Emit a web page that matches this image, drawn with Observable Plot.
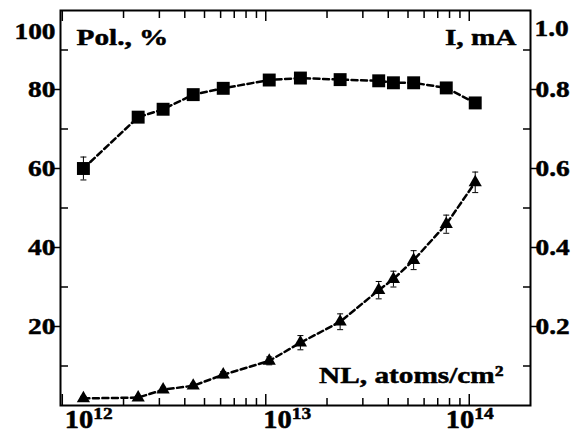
<!DOCTYPE html>
<html><head><meta charset="utf-8">
<script src="https://cdn.jsdelivr.net/npm/d3@7"></script>
<script src="https://cdn.jsdelivr.net/npm/@observablehq/plot@0.6"></script>
<style>body{margin:0;background:#fff;} svg text{font-family:"Liberation Serif","Times New Roman",serif !important;}</style>
</head><body><div id="chart"></div>
<script>
// ---- data ----
const nl = [1.27e12, 2.36e12, 3.13e12, 4.40e12, 6.18e12, 1.04e13, 1.48e13, 2.32e13, 3.59e13, 4.24e13, 5.33e13, 7.71e13, 1.07e14];
const pol = [60.0, 73.0, 75.0, 78.7, 80.3, 82.4, 82.9, 82.5, 82.2, 81.7, 81.7, 80.4, 76.6];
const polErr = [2.9, 1.1, 0.6, 0.6, 0.6, 0.6, 0.6, 0.6, 0.6, 0.6, 0.6, 0.6, 0.6];
const current = [0.018, 0.020, 0.040, 0.050, 0.078, 0.113, 0.159, 0.212, 0.292, 0.320, 0.368, 0.459, 0.565];
const currentErr = [0.005, 0.005, 0.006, 0.006, 0.008, 0.010, 0.018, 0.020, 0.022, 0.020, 0.024, 0.023, 0.026];

const polTicks = [20, 40, 60, 80, 100];
const polMinor = [10, 30, 50, 70, 90];
const iTicks = [0.2, 0.4, 0.6, 0.8, 1.0];
const iMinor = [0.1, 0.3, 0.5, 0.7, 0.9];
const xMajor = [1e12, 1e13, 1e14];
const xMinor = [2e12, 3e12, 4e12, 5e12, 6e12, 7e12, 8e12, 9e12, 2e13, 3e13, 4e13, 5e13, 6e13, 7e13, 8e13, 9e13];
const xExponents = ["12", "13", "14"];
const labelPol = "Pol., %";
const labelI = "I, mA";
const labelNL = "NL, atoms/cm²";

// right axis (mA) shares the frame with left axis (%): 1.0 mA <-> 100 %
const iScale = 100;

const rows = nl.map((x, i) => ({
  x, pol: pol[i], pe: polErr[i], cur: current[i] * iScale, ce: currentErr[i] * iScale
}));

const font = "Liberation Serif";
const cap = {draw(ctx, size) { const w = Math.sqrt(size / Math.PI); ctx.moveTo(-w, 0); ctx.lineTo(w, 0); }};
const T = {fontSize: 24, fontWeight: "bold", fill: "black", stroke: "black", strokeWidth: 0.5, fontFamily: font};
const TK = {...T, ariaDescription: "stretch-tick"};
const TT = {...T, ariaDescription: "stretch-title"};

const majorLabel = (i, dx) => [
  Plot.text([xMajor[i]], {x: d => d, frameAnchor: "bottom", lineAnchor: "top", textAnchor: "end", dx, dy: 5, text: () => "10", ...TK, fontSize: 25}),
  Plot.text([xMajor[i]], {x: d => d, frameAnchor: "bottom", lineAnchor: "top", textAnchor: "start", dx, dy: 1, text: () => xExponents[i], ...TK, fontSize: 17})
];

const chart = Plot.plot({
  width: 576, height: 434,
  marginLeft: 60, marginRight: 46, marginTop: 10, marginBottom: 29,
  x: {type: "log", domain: [0.98e12, 2e14], axis: null},
  y: {domain: [0, 100], axis: null},
  style: {fontFamily: font, background: "white", color: "black"},
  marks: [
    // ticks
    Plot.axisY(polMinor, {anchor: "left", tickSize: -8, text: null, label: null, strokeWidth: 1.5}),
    Plot.axisY(polTicks.filter(v => v < 100), {anchor: "left", tickSize: 6, text: null, label: null, strokeWidth: 1.5}),
    Plot.axisY(iMinor.map(v => v * iScale), {anchor: "right", tickSize: -8, text: null, label: null, strokeWidth: 1.5}),
    Plot.axisY(iTicks.filter(v => v < 1).map(v => v * iScale), {anchor: "right", tickSize: 6, text: null, label: null, strokeWidth: 1.5}),
    Plot.axisX(xMinor, {anchor: "bottom", tickSize: -7, text: null, label: null, strokeWidth: 1.5}),
    Plot.axisX(xMajor, {anchor: "bottom", tickSize: -11, text: null, label: null, strokeWidth: 1.5}),
    Plot.axisX(xMinor, {anchor: "top", tickSize: -7, text: null, label: null, strokeWidth: 1.5}),
    Plot.axisX(xMajor, {anchor: "top", tickSize: -10, text: null, label: null, strokeWidth: 1.5}),
    Plot.frame({stroke: "black", strokeWidth: 2}),
    // tick labels
    Plot.text(polTicks.filter(v => v < 100), {y: d => d, frameAnchor: "left", textAnchor: "end", dx: -5, text: d => String(d), ...TK}),
    Plot.text(polTicks.filter(v => v === 100), {y: d => d, frameAnchor: "left", textAnchor: "end", dx: -5, dy: 21, text: d => String(d), ...TK}),
    Plot.text(iTicks.filter(v => v < 1), {y: d => d * iScale, frameAnchor: "right", textAnchor: "start", dx: 5, text: d => d.toFixed(1), ...TK}),
    Plot.text(iTicks.filter(v => v === 1), {y: d => d * iScale, frameAnchor: "right", textAnchor: "start", dx: 4, dy: 18, text: d => d.toFixed(1), ...TK}),
    ...majorLabel(0, 31),
    ...majorLabel(1, 26),
    ...majorLabel(2, 5),
    // axis titles
    Plot.text([labelPol], {frameAnchor: "top-left", lineAnchor: "top", textAnchor: "start", dx: 16, dy: 17, text: d => d, ...TT}),
    Plot.text([labelI], {frameAnchor: "top-right", lineAnchor: "top", textAnchor: "end", dx: -14, dy: 17, text: d => d, ...TT}),
    Plot.text([labelNL], {frameAnchor: "bottom-right", lineAnchor: "top", textAnchor: "end", dx: -27, dy: -40, text: d => d, ...TT}),
    // data
    Plot.line(rows, {x: "x", y: "pol", stroke: "black", strokeWidth: 2.5, strokeDasharray: "6,3.5"}),
    Plot.line(rows, {x: "x", y: "cur", stroke: "black", strokeWidth: 2.5, strokeDasharray: "6,3.5"}),
    Plot.ruleX(rows, {x: "x", y1: d => d.pol - d.pe, y2: d => d.pol + d.pe, stroke: "black", strokeWidth: 1}),
    Plot.ruleX(rows, {x: "x", y1: d => d.cur - d.ce, y2: d => d.cur + d.ce, stroke: "black", strokeWidth: 1}),
    Plot.dot(rows, {x: "x", y: "pol", symbol: "square", r: 7.3, fill: "black", stroke: null}),
    Plot.dot(rows, {x: "x", y: "cur", symbol: "triangle", r: 4.9, fill: "black", stroke: null}),
    Plot.dot(rows, {x: "x", y: d => d.pol + d.pe, symbol: cap, r: 3, fill: "none", stroke: "black", strokeWidth: 1}),
    Plot.dot(rows, {x: "x", y: d => d.pol - d.pe, symbol: cap, r: 3, fill: "none", stroke: "black", strokeWidth: 1}),
    Plot.dot(rows, {x: "x", y: d => d.cur + d.ce, symbol: cap, r: 3, fill: "none", stroke: "black", strokeWidth: 1}),
    Plot.dot(rows, {x: "x", y: d => d.cur - d.ce, symbol: cap, r: 3, fill: "none", stroke: "black", strokeWidth: 1})
  ]
});
document.getElementById("chart").append(chart);
// widen the serif glyphs to match the reference typeface proportions
const stretch = (sel, k) => chart.querySelectorAll(sel).forEach(t => {
  const w = t.getComputedTextLength();
  if (w > 0) {
    t.setAttribute("textLength", (w * k).toFixed(1));
    t.setAttribute("lengthAdjust", "spacingAndGlyphs");
  }
});
stretch('g[aria-description="stretch-tick"] text', 1.14);
stretch('g[aria-description="stretch-title"] text', 1.22);
</script>
</body></html>
